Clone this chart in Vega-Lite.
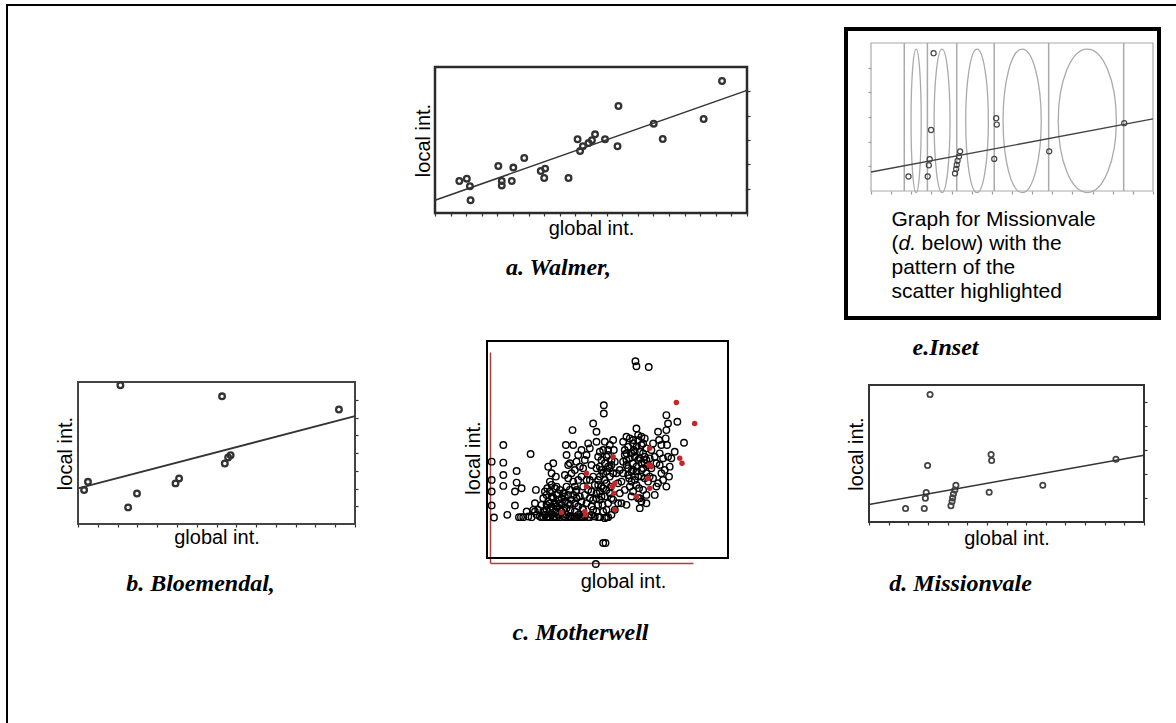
{
  "$schema": "https://vega.github.io/schema/vega-lite/v6.json",
  "width": 1176,
  "height": 723,
  "autosize": "none",
  "padding": 0,
  "background": "white",
  "config": {
    "view": {"stroke": null},
    "axis": {"grid": false, "labels": false, "domain": false, "ticks": false, "titleFont": "Liberation Sans", "titleFontWeight": "normal", "titleFontSize": 20, "titleColor": "#000", "tickColor": "#333", "tickWidth": 1.2, "tickSize": 3}
  },
  "datasets": {
    "walmer": [{"gx":92.0,"ly":90.4},{"gx":58.8,"ly":73.3},{"gx":86.1,"ly":64.4},{"gx":70.1,"ly":61.2},{"gx":73.0,"ly":50.7},{"gx":58.5,"ly":45.7},{"gx":54.5,"ly":50.5},{"gx":51.3,"ly":53.9},{"gx":50.3,"ly":49.8},{"gx":49.2,"ly":47.9},{"gx":47.4,"ly":45.7},{"gx":46.5,"ly":42.5},{"gx":45.7,"ly":50.5},{"gx":28.6,"ly":37.7},{"gx":25.1,"ly":31.1},{"gx":20.3,"ly":32.2},{"gx":33.9,"ly":28.8},{"gx":35.3,"ly":30.4},{"gx":35.0,"ly":24.0},{"gx":42.8,"ly":24.0},{"gx":24.6,"ly":21.9},{"gx":21.4,"ly":21.9},{"gx":21.4,"ly":18.9},{"gx":11.2,"ly":18.3},{"gx":10.2,"ly":23.5},{"gx":7.8,"ly":21.9},{"gx":11.4,"ly":8.7}],
    "walmerFit": [{"gx":0,"ly":8.7},{"gx":100,"ly":84.0}],
    "bloem": [{"gx":15.3,"ly":97.7},{"gx":52.0,"ly":89.9},{"gx":94.2,"ly":80.6},{"gx":55.1,"ly":48.5},{"gx":54.2,"ly":46.8},{"gx":53.0,"ly":42.6},{"gx":36.5,"ly":32.1},{"gx":35.2,"ly":28.6},{"gx":3.6,"ly":29.7},{"gx":2.2,"ly":23.9},{"gx":21.3,"ly":21.5},{"gx":18.1,"ly":11.7}],
    "bloemFit": [{"gx":0,"ly":25.1},{"gx":100,"ly":75.9}],
    "mission": [{"gx":22.2,"ly":93.1},{"gx":21.3,"ly":41.2},{"gx":44.4,"ly":49.2},{"gx":44.6,"ly":44.9},{"gx":89.8,"ly":45.8},{"gx":20.8,"ly":21.5},{"gx":20.5,"ly":17.4},{"gx":13.3,"ly":9.8},{"gx":20.1,"ly":9.8},{"gx":31.6,"ly":26.8},{"gx":31.2,"ly":23.3},{"gx":30.7,"ly":20.4},{"gx":30.4,"ly":17.6},{"gx":30.2,"ly":14.9},{"gx":29.8,"ly":11.9},{"gx":43.7,"ly":21.7},{"gx":63.2,"ly":26.8}],
    "missionFit": [{"gx":0,"ly":12.8},{"gx":100,"ly":48.7}],
    "bands": [{"gx":11.8},{"gx":20.0},{"gx":30.4},{"gx":43.7},{"gx":63.0},{"gx":89.6}],
    "ellipses": [{"band":"e1","gx":16.0},{"band":"e2","gx":25.2},{"band":"e3","gx":37.6},{"band":"e4","gx":53.6},{"band":"e5","gx":76.7}],
    "mwBlack": [{"gx":55.7,"ly":90.7},{"gx":56.0,"ly":89.2},{"gx":59.7,"ly":89.0},
      {"gx":12.5,"ly":60.5},{"gx":12.5,"ly":55.0},{"gx":12.5,"ly":51.5},{"gx":12.5,"ly":47.3},{"gx":13.2,"ly":43.7},
      {"gx":16.0,"ly":65.5},{"gx":16.0,"ly":60.2},{"gx":16.0,"ly":56.5},{"gx":16.0,"ly":53.2},{"gx":17.2,"ly":44.5},
      {"gx":20.0,"ly":57.7},{"gx":20.0,"ly":54.2},{"gx":19.5,"ly":51.5},{"gx":19.5,"ly":47.3},{"gx":21.5,"ly":52.5},{"gx":20.7,"ly":43.8},{"gx":21.3,"ly":43.8},{"gx":22.0,"ly":43.8},
      {"gx":24.2,"ly":62.8},{"gx":24.5,"ly":43.8},{"gx":25.5,"ly":45.5},{"gx":25.5,"ly":48.0},{"gx":25.8,"ly":52.0},{"gx":26.5,"ly":46.0},{"gx":27.5,"ly":43.8},{"gx":28.5,"ly":45.5},{"gx":29.0,"ly":47.5},{"gx":29.0,"ly":50.5},{"gx":29.2,"ly":52.5},{"gx":29.5,"ly":59.0},{"gx":30.5,"ly":57.0},{"gx":31.0,"ly":60.0},{"gx":30.0,"ly":54.5},{"gx":31.8,"ly":56.0},{"gx":32.0,"ly":53.0},{"gx":32.5,"ly":51.0},{"gx":33.0,"ly":48.0},{"gx":33.5,"ly":45.5},{"gx":34.0,"ly":44.0},{"gx":34.5,"ly":48.5},{"gx":35.0,"ly":53.0},{"gx":34.5,"ly":56.5},{"gx":34.8,"ly":65.5},{"gx":35.0,"ly":62.5},{"gx":35.5,"ly":59.5},{"gx":36.5,"ly":57.0},{"gx":37.0,"ly":54.5},{"gx":36.8,"ly":70.0},{"gx":37.0,"ly":65.5},{"gx":37.8,"ly":51.5},{"gx":38.0,"ly":49.5},{"gx":38.5,"ly":47.0},{"gx":38.5,"ly":62.5},{"gx":39.0,"ly":59.0},{"gx":39.5,"ly":56.0},{"gx":40.0,"ly":53.0},{"gx":40.5,"ly":50.5},{"gx":41.0,"ly":48.0},{"gx":40.5,"ly":44.0},{"gx":41.0,"ly":62.5},{"gx":41.5,"ly":66.0},{"gx":42.0,"ly":64.5},{"gx":43.0,"ly":72.0},{"gx":44.0,"ly":69.5},{"gx":44.0,"ly":66.5},{"gx":44.5,"ly":62.0},{"gx":45.0,"ly":59.0},{"gx":45.0,"ly":56.0},{"gx":45.5,"ly":53.0},{"gx":45.5,"ly":50.0},{"gx":45.8,"ly":47.5},{"gx":46.0,"ly":45.5},{"gx":46.2,"ly":77.5},{"gx":46.2,"ly":75.0},{"gx":46.5,"ly":66.5},{"gx":46.5,"ly":43.5},{"gx":47.0,"ly":62.0},{"gx":47.5,"ly":59.0},{"gx":48.0,"ly":56.0},{"gx":48.3,"ly":53.0},{"gx":48.5,"ly":49.5},{"gx":49.0,"ly":67.0},{"gx":49.2,"ly":64.0},{"gx":49.5,"ly":60.5},{"gx":50.0,"ly":57.0},{"gx":50.5,"ly":54.0},{"gx":51.0,"ly":51.0},{"gx":51.5,"ly":48.0},{"gx":52.0,"ly":66.5},{"gx":52.5,"ly":64.0},{"gx":53.0,"ly":61.0},{"gx":53.5,"ly":58.5},{"gx":53.8,"ly":55.5},{"gx":54.0,"ly":53.0},{"gx":54.5,"ly":50.0},{"gx":55.0,"ly":67.0},{"gx":55.2,"ly":64.0},{"gx":55.5,"ly":62.0},{"gx":56.0,"ly":70.5},{"gx":56.0,"ly":59.0},{"gx":56.5,"ly":56.0},{"gx":56.8,"ly":52.5},{"gx":57.0,"ly":49.5},{"gx":57.5,"ly":68.0},{"gx":57.5,"ly":65.5},{"gx":58.0,"ly":63.0},{"gx":58.5,"ly":60.0},{"gx":59.0,"ly":57.0},{"gx":59.5,"ly":54.5},{"gx":60.0,"ly":61.5},{"gx":60.5,"ly":64.0},{"gx":61.5,"ly":62.0},{"gx":62.5,"ly":69.5},{"gx":62.8,"ly":67.0},{"gx":63.0,"ly":59.5},{"gx":63.5,"ly":57.0},{"gx":64.0,"ly":61.5},{"gx":64.8,"ly":67.5},{"gx":65.0,"ly":74.5},{"gx":65.2,"ly":65.5},{"gx":65.5,"ly":72.0},{"gx":65.5,"ly":62.0},{"gx":65.8,"ly":56.0},{"gx":65.0,"ly":53.0},{"gx":66.0,"ly":59.0},{"gx":68.3,"ly":72.5},{"gx":70.3,"ly":66.2},{"gx":62.5,"ly":54.0},{"gx":57.5,"ly":48.5},{"gx":56.5,"ly":49.5},{"gx":53.0,"ly":47.5},{"gx":50.5,"ly":48.0},{"gx":49.5,"ly":46.0},{"gx":48.5,"ly":44.5},{"gx":47.0,"ly":46.0},{"gx":44.0,"ly":45.5},{"gx":43.5,"ly":44.0},{"gx":42.5,"ly":47.0},{"gx":42.0,"ly":49.5},{"gx":41.5,"ly":52.0},{"gx":39.8,"ly":46.5},{"gx":37.0,"ly":44.0},{"gx":36.2,"ly":46.0},{"gx":35.5,"ly":48.0},{"gx":34.0,"ly":46.0},{"gx":32.0,"ly":45.5},{"gx":31.5,"ly":48.0},{"gx":30.5,"ly":50.0},{"gx":30.0,"ly":48.0},{"gx":28.0,"ly":49.5},{"gx":27.0,"ly":44.0},{"gx":26.0,"ly":44.5},{"gx":25.0,"ly":46.0},{"gx":23.5,"ly":44.0},{"gx":23.0,"ly":45.5},
      {"gx":28.5,"ly":44.5},{"gx":29.5,"ly":44.0},{"gx":30.5,"ly":44.5},{"gx":31.5,"ly":44.0},{"gx":32.5,"ly":44.5},{"gx":33.0,"ly":46.5},{"gx":35.0,"ly":44.5},{"gx":36.0,"ly":44.0},{"gx":37.5,"ly":45.5},{"gx":38.5,"ly":44.5},{"gx":39.5,"ly":44.0},{"gx":30.0,"ly":46.0},{"gx":31.0,"ly":46.5},{"gx":29.0,"ly":46.0},{"gx":32.0,"ly":47.0},{"gx":33.5,"ly":49.5},{"gx":35.5,"ly":50.5},{"gx":36.5,"ly":49.0},{"gx":37.5,"ly":48.0},{"gx":36.0,"ly":52.0},{"gx":34.0,"ly":51.0},{"gx":31.5,"ly":52.5},{"gx":30.5,"ly":53.5},{"gx":28.5,"ly":51.5},{"gx":27.5,"ly":47.5},{"gx":37.5,"ly":53.0},{"gx":38.5,"ly":55.0},{"gx":35.5,"ly":55.5},
      {"gx":42.5,"ly":44.5},{"gx":43.0,"ly":46.0},{"gx":44.5,"ly":47.5},{"gx":45.0,"ly":49.0},{"gx":44.0,"ly":51.0},{"gx":43.5,"ly":53.5},{"gx":44.5,"ly":55.0},{"gx":46.0,"ly":57.0},{"gx":46.5,"ly":55.0},{"gx":47.0,"ly":52.0},{"gx":46.5,"ly":50.0},{"gx":47.5,"ly":48.0},{"gx":48.0,"ly":58.5},{"gx":48.5,"ly":61.0},{"gx":47.5,"ly":64.0},{"gx":45.5,"ly":61.0},{"gx":44.0,"ly":58.5},{"gx":43.0,"ly":56.0},{"gx":42.5,"ly":51.5},
      {"gx":52.5,"ly":62.5},{"gx":53.5,"ly":65.0},{"gx":54.5,"ly":63.0},{"gx":55.0,"ly":60.0},{"gx":54.5,"ly":57.5},{"gx":55.5,"ly":55.0},{"gx":56.5,"ly":61.0},{"gx":57.0,"ly":63.5},{"gx":58.0,"ly":66.0},{"gx":57.5,"ly":58.0},{"gx":58.5,"ly":55.5},{"gx":59.5,"ly":59.5},{"gx":54.0,"ly":67.5},{"gx":56.5,"ly":67.0},{"gx":53.0,"ly":59.5},{"gx":52.0,"ly":57.0},{"gx":51.5,"ly":54.5},{"gx":52.5,"ly":52.0},{"gx":55.0,"ly":51.5},{"gx":58.0,"ly":52.0},{"gx":59.0,"ly":50.5},
      {"gx":60.5,"ly":58.5},{"gx":61.0,"ly":55.5},{"gx":62.0,"ly":60.0},{"gx":63.0,"ly":63.0},{"gx":64.5,"ly":58.0},{"gx":66.5,"ly":61.5},{"gx":67.5,"ly":63.5},{"gx":65.0,"ly":70.0},{"gx":63.5,"ly":65.5},{"gx":61.0,"ly":66.0},{"gx":60.0,"ly":56.0},{"gx":62.0,"ly":53.0},{"gx":64.0,"ly":55.0},{"gx":61.5,"ly":50.5},{"gx":59.0,"ly":48.0},{"gx":57.0,"ly":46.5},
      {"gx":28.0,"ly":43.8},{"gx":29.0,"ly":43.8},{"gx":30.0,"ly":43.8},{"gx":31.0,"ly":43.8},{"gx":32.0,"ly":43.8},{"gx":33.0,"ly":43.8},{"gx":34.5,"ly":43.8},{"gx":35.5,"ly":43.8},{"gx":36.5,"ly":43.8},{"gx":37.5,"ly":43.8},{"gx":38.0,"ly":43.8},{"gx":39.0,"ly":43.8},{"gx":40.0,"ly":43.8},{"gx":41.5,"ly":43.8},{"gx":42.0,"ly":43.8},{"gx":44.5,"ly":43.8},{"gx":45.0,"ly":43.8},{"gx":47.0,"ly":43.8},{"gx":47.5,"ly":43.8},{"gx":29.5,"ly":48.5},{"gx":30.5,"ly":47.0},{"gx":31.0,"ly":49.5},{"gx":32.5,"ly":49.0},{"gx":33.5,"ly":47.5},{"gx":34.5,"ly":50.0},{"gx":35.0,"ly":46.5},{"gx":36.0,"ly":47.5},{"gx":37.0,"ly":50.5},{"gx":38.0,"ly":52.0},{"gx":39.0,"ly":50.0},{"gx":39.5,"ly":48.5},{"gx":40.0,"ly":46.0},{"gx":30.0,"ly":51.5},{"gx":32.0,"ly":50.5},{"gx":33.0,"ly":52.0},{"gx":28.0,"ly":45.5},
      {"gx":43.0,"ly":49.0},{"gx":44.0,"ly":49.5},{"gx":45.0,"ly":51.5},{"gx":46.0,"ly":52.5},{"gx":47.0,"ly":54.0},{"gx":48.0,"ly":51.0},{"gx":49.0,"ly":49.0},{"gx":44.5,"ly":53.5},{"gx":45.5,"ly":58.0},{"gx":46.5,"ly":60.0},{"gx":47.0,"ly":57.5},{"gx":48.5,"ly":59.5},{"gx":49.0,"ly":57.0},{"gx":47.5,"ly":62.5},{"gx":46.0,"ly":64.0},{"gx":48.0,"ly":65.5},{"gx":45.0,"ly":63.5},
      {"gx":53.0,"ly":63.0},{"gx":54.0,"ly":61.5},{"gx":55.5,"ly":63.5},{"gx":56.0,"ly":65.0},{"gx":57.0,"ly":61.5},{"gx":58.5,"ly":62.0},{"gx":59.0,"ly":64.5},{"gx":55.0,"ly":58.0},{"gx":56.0,"ly":57.5},{"gx":57.5,"ly":56.0},{"gx":53.5,"ly":56.5},{"gx":54.5,"ly":54.5},{"gx":56.0,"ly":53.5},{"gx":58.0,"ly":58.5},{"gx":59.0,"ly":61.0},{"gx":57.5,"ly":60.0},{"gx":55.0,"ly":66.0},{"gx":53.0,"ly":68.0},{"gx":56.5,"ly":68.5},{"gx":58.5,"ly":67.5},{"gx":52.0,"ly":60.5},{"gx":51.0,"ly":58.0},
      {"gx":36.0,"ly":60.0},{"gx":37.5,"ly":58.0},{"gx":38.0,"ly":60.5},{"gx":40.0,"ly":58.5},{"gx":40.5,"ly":61.0},{"gx":39.5,"ly":64.0},{"gx":42.5,"ly":59.5},{"gx":42.0,"ly":55.0},{"gx":41.0,"ly":55.0},
      {"gx":46.0,"ly":36.0},{"gx":46.7,"ly":36.0},{"gx":43.8,"ly":29.7}],
    "mwRed": [{"gx":68.0,"ly":78.3},{"gx":73.5,"ly":72.0},{"gx":60.0,"ly":64.5},{"gx":59.8,"ly":59.5},{"gx":60.5,"ly":59.0},{"gx":69.0,"ly":61.5},{"gx":69.7,"ly":60.0},{"gx":48.8,"ly":53.0},{"gx":49.2,"ly":51.0},{"gx":49.5,"ly":54.0},{"gx":49.0,"ly":62.0},{"gx":41.0,"ly":57.0},{"gx":40.5,"ly":45.5},{"gx":40.8,"ly":44.5},{"gx":33.5,"ly":45.2},{"gx":49.5,"ly":46.0},{"gx":60.0,"ly":52.5},{"gx":56.0,"ly":50.0},{"gx":41.0,"ly":53.0},{"gx":59.5,"ly":55.5}]
  },
  "resolve": {"scale": {"x": "independent", "y": "independent", "shape": "independent", "size": "independent", "color": "independent"}, "axis": {"x": "independent", "y": "independent"}},
  "layer": [
    {
      "data": {"values": [{}]},
      "mark": {"type": "rect", "fill": "transparent", "stroke": "#000", "strokeWidth": 2},
      "encoding": {
        "x": {"datum": 0, "type": "quantitative", "scale": {"domain": [0, 1], "range": [7, 1200], "nice": false, "zero": false}, "axis": null},
        "x2": {"datum": 1},
        "y": {"datum": 0, "type": "quantitative", "scale": {"domain": [0, 1], "range": [740, 5], "nice": false, "zero": false}, "axis": null},
        "y2": {"datum": 1}
      }
    },
    {
      "data": {"values": [{}]},
      "mark": {"type": "rect", "fill": "transparent", "stroke": "#2b2b2b", "strokeWidth": 2.5},
      "encoding": {
        "x": {"datum": 0, "type": "quantitative", "scale": {"domain": [0, 100], "range": [435, 747], "nice": false, "zero": false},
              "axis": {"orient": "bottom", "offset": -510, "title": "a. Walmer,", "titleFont": "Liberation Serif", "titleFontStyle": "italic", "titleFontWeight": "bold", "titleFontSize": 24, "titlePadding": 42, "titleX": 558}},
        "x2": {"datum": 100},
        "y": {"datum": 0, "type": "quantitative", "scale": {"domain": [0, 100], "range": [213, 67], "nice": false, "zero": false},
              "axis": {"orient": "right", "offset": -429, "ticks": true, "values": [16.67, 33.33, 50, 66.67, 83.33], "title": null}},
        "y2": {"datum": 100}
      }
    },
    {
      "data": {"name": "walmer"},
      "mark": {"type": "point", "filled": false, "stroke": "#333", "strokeWidth": 2.3, "size": 32, "opacity": 1},
      "encoding": {
        "x": {"field": "gx", "type": "quantitative", "scale": {"domain": [0, 100], "range": [435, 747], "nice": false, "zero": false},
              "axis": {"orient": "bottom", "offset": -510, "ticks": true, "values": [0,5,10,15,20,25,30,35,40,45,50,55,60,65,70,75,80,85,90,95,100], "title": "global int.", "titlePadding": 2}},
        "y": {"field": "ly", "type": "quantitative", "scale": {"domain": [0, 100], "range": [213, 67], "nice": false, "zero": false},
              "axis": {"orient": "left", "offset": -435, "title": "local int.", "titlePadding": 2}}
      }
    },
    {
      "data": {"name": "walmerFit"},
      "mark": {"type": "line", "color": "#333", "strokeWidth": 1.5},
      "encoding": {
        "x": {"field": "gx", "type": "quantitative", "scale": {"domain": [0, 100], "range": [435, 747], "nice": false, "zero": false}, "axis": null},
        "y": {"field": "ly", "type": "quantitative", "scale": {"domain": [0, 100], "range": [213, 67], "nice": false, "zero": false}, "axis": null}
      }
    },
    {
      "data": {"values": [{}]},
      "mark": {"type": "rect", "fill": "transparent", "stroke": "#444", "strokeWidth": 2},
      "encoding": {
        "x": {"datum": 0, "type": "quantitative", "scale": {"domain": [0, 100], "range": [78, 355], "nice": false, "zero": false},
              "axis": {"orient": "bottom", "offset": -199, "title": "b. Bloemendal,", "titleFont": "Liberation Serif", "titleFontStyle": "italic", "titleFontWeight": "bold", "titleFontSize": 24, "titlePadding": 47, "titleX": 200}},
        "x2": {"datum": 100},
        "y": {"datum": 0, "type": "quantitative", "scale": {"domain": [0, 100], "range": [524, 382], "nice": false, "zero": false},
              "axis": {"orient": "right", "offset": -821, "ticks": true, "values": [12.5, 25, 37.5, 50, 62.5, 75, 87.5], "title": null}},
        "y2": {"datum": 100}
      }
    },
    {
      "data": {"name": "bloem"},
      "mark": {"type": "point", "filled": false, "stroke": "#333", "strokeWidth": 2.3, "size": 32, "opacity": 1},
      "encoding": {
        "x": {"field": "gx", "type": "quantitative", "scale": {"domain": [0, 100], "range": [78, 355], "nice": false, "zero": false},
              "axis": {"orient": "bottom", "offset": -199, "ticks": true, "values": [0,7.14,14.29,21.43,28.57,35.71,42.86,50,57.14,64.29,71.43,78.57,85.71,92.86,100], "title": "global int.", "titlePadding": 0}},
        "y": {"field": "ly", "type": "quantitative", "scale": {"domain": [0, 100], "range": [524, 382], "nice": false, "zero": false},
              "axis": {"orient": "left", "offset": -78, "title": "local int.", "titlePadding": 3}}
      }
    },
    {
      "data": {"name": "bloemFit"},
      "mark": {"type": "line", "color": "#333", "strokeWidth": 1.8},
      "encoding": {
        "x": {"field": "gx", "type": "quantitative", "scale": {"domain": [0, 100], "range": [78, 355], "nice": false, "zero": false}, "axis": null},
        "y": {"field": "ly", "type": "quantitative", "scale": {"domain": [0, 100], "range": [524, 382], "nice": false, "zero": false}, "axis": null}
      }
    },
    {
      "data": {"values": [{}]},
      "mark": {"type": "rect", "fill": "transparent", "stroke": "#333", "strokeWidth": 2},
      "encoding": {
        "x": {"datum": 0, "type": "quantitative", "scale": {"domain": [0, 100], "range": [869, 1144], "nice": false, "zero": false},
              "axis": {"orient": "bottom", "offset": -201, "title": "d. Missionvale", "titleFont": "Liberation Serif", "titleFontStyle": "italic", "titleFontWeight": "bold", "titleFontSize": 24, "titlePadding": 49, "titleX": 960}},
        "x2": {"datum": 100},
        "y": {"datum": 0, "type": "quantitative", "scale": {"domain": [0, 100], "range": [522, 385], "nice": false, "zero": false},
              "axis": {"orient": "right", "offset": -32, "ticks": true, "values": [17.5, 35, 52.5, 70, 87.5], "title": null}},
        "y2": {"datum": 100}
      }
    },
    {
      "data": {"name": "mission"},
      "mark": {"type": "point", "filled": false, "stroke": "#444", "strokeWidth": 1.8, "size": 28, "opacity": 1},
      "encoding": {
        "x": {"field": "gx", "type": "quantitative", "scale": {"domain": [0, 100], "range": [869, 1144], "nice": false, "zero": false},
              "axis": {"orient": "bottom", "offset": -201, "ticks": true, "values": [0,7.14,14.29,21.43,28.57,35.71,42.86,50,57.14,64.29,71.43,78.57,85.71,92.86,100], "title": "global int.", "titlePadding": 3}},
        "y": {"field": "ly", "type": "quantitative", "scale": {"domain": [0, 100], "range": [522, 385], "nice": false, "zero": false},
              "axis": {"orient": "left", "offset": -869, "title": "local int.", "titlePadding": 3}}
      }
    },
    {
      "data": {"name": "missionFit"},
      "mark": {"type": "line", "color": "#333", "strokeWidth": 1.5},
      "encoding": {
        "x": {"field": "gx", "type": "quantitative", "scale": {"domain": [0, 100], "range": [869, 1144], "nice": false, "zero": false}, "axis": null},
        "y": {"field": "ly", "type": "quantitative", "scale": {"domain": [0, 100], "range": [522, 385], "nice": false, "zero": false}, "axis": null}
      }
    },
    {
      "data": {"values": [{}]},
      "mark": {"type": "rect", "fill": "transparent", "stroke": "#000", "strokeWidth": 4},
      "encoding": {
        "x": {"datum": 0, "type": "quantitative", "scale": {"domain": [0, 1], "range": [846, 1159], "nice": false, "zero": false},
              "axis": {"orient": "bottom", "offset": -405, "title": "e.Inset", "titleFont": "Liberation Serif", "titleFontStyle": "italic", "titleFontWeight": "bold", "titleFontSize": 24, "titlePadding": 17, "titleX": 945}},
        "x2": {"datum": 1},
        "y": {"datum": 0, "type": "quantitative", "scale": {"domain": [0, 1], "range": [318, 29], "nice": false, "zero": false}, "axis": null},
        "y2": {"datum": 1}
      }
    },
    {
      "data": {"values": [{}]},
      "mark": {"type": "rect", "fill": "transparent", "stroke": "#aaa", "strokeWidth": 1.2},
      "encoding": {
        "x": {"datum": 0, "type": "quantitative", "scale": {"domain": [0, 100], "range": [871, 1153], "nice": false, "zero": false},
              "axis": {"orient": "bottom", "offset": -532, "ticks": true, "tickColor": "#999", "values": [0,7.14,14.29,21.43,28.57,35.71,42.86,50,57.14,64.29,71.43,78.57,85.71,92.86,100],
                       "title": ["Graph for Missionvale", "(", "pattern of the", "scatter highlighted"], "titleFontSize": 21, "titleLineHeight": 24, "titleAlign": "left", "titleX": 891, "titlePadding": 14}},
        "x2": {"datum": 100},
        "y": {"datum": 0, "type": "quantitative", "scale": {"domain": [0, 100], "range": [191, 43], "nice": false, "zero": false},
              "axis": {"orient": "left", "offset": -871, "ticks": true, "tickColor": "#999", "values": [16.67, 33.33, 50, 66.67, 83.33], "title": null}},
        "y2": {"datum": 100}
      }
    },
    {
      "data": {"name": "bands"},
      "mark": {"type": "rule", "color": "#aaa", "strokeWidth": 1.5},
      "encoding": {
        "x": {"field": "gx", "type": "quantitative", "scale": {"domain": [0, 100], "range": [871, 1153], "nice": false, "zero": false},
              "axis": {"orient": "bottom", "offset": -532, "title": "d.", "titleFontStyle": "italic", "titleFontSize": 21, "titleAlign": "left", "titleX": 898, "titlePadding": 41}},
        "y": {"datum": 0, "type": "quantitative", "scale": {"domain": [0, 100], "range": [191, 43], "nice": false, "zero": false}, "axis": null},
        "y2": {"datum": 100}
      }
    },
    {
      "data": {"name": "ellipses"},
      "mark": {"type": "point", "filled": false, "stroke": "#aaa", "strokeWidth": 1.3, "size": 20600, "opacity": 1},
      "encoding": {
        "x": {"field": "gx", "type": "quantitative", "scale": {"domain": [0, 100], "range": [871, 1153], "nice": false, "zero": false},
              "axis": {"orient": "bottom", "offset": -532, "title": "below) with the", "titleFontSize": 21, "titleAlign": "left", "titleX": 921, "titlePadding": 41}},
        "y": {"datum": 47.4, "type": "quantitative", "scale": {"domain": [0, 100], "range": [191, 43], "nice": false, "zero": false}, "axis": null},
        "shape": {"field": "band", "type": "nominal", "legend": null,
                  "scale": {"domain": ["e1", "e2", "e3", "e4", "e5"],
                            "range": ["M -0.071 0 A 0.071 1 0 1 0 0.071 0 A 0.071 1 0 1 0 -0.071 0 Z",
                                      "M -0.111 0 A 0.111 1 0 1 0 0.111 0 A 0.111 1 0 1 0 -0.111 0 Z",
                                      "M -0.158 0 A 0.158 1 0 1 0 0.158 0 A 0.158 1 0 1 0 -0.158 0 Z",
                                      "M -0.266 0 A 0.266 1 0 1 0 0.266 0 A 0.266 1 0 1 0 -0.266 0 Z",
                                      "M -0.405 0 A 0.405 1 0 1 0 0.405 0 A 0.405 1 0 1 0 -0.405 0 Z"]}}
      }
    },
    {
      "data": {"name": "mission"},
      "mark": {"type": "point", "filled": false, "stroke": "#444", "strokeWidth": 1.2, "size": 26, "opacity": 1},
      "encoding": {
        "x": {"field": "gx", "type": "quantitative", "scale": {"domain": [0, 100], "range": [871, 1153], "nice": false, "zero": false}, "axis": null},
        "y": {"field": "ly", "type": "quantitative", "scale": {"domain": [0, 100], "range": [191, 43], "nice": false, "zero": false}, "axis": null}
      }
    },
    {
      "data": {"name": "missionFit"},
      "mark": {"type": "line", "color": "#444", "strokeWidth": 1.4},
      "encoding": {
        "x": {"field": "gx", "type": "quantitative", "scale": {"domain": [0, 100], "range": [871, 1153], "nice": false, "zero": false}, "axis": null},
        "y": {"field": "ly", "type": "quantitative", "scale": {"domain": [0, 100], "range": [191, 43], "nice": false, "zero": false}, "axis": null}
      }
    },
    {
      "data": {"values": [{}]},
      "mark": {"type": "rect", "fill": "transparent", "stroke": "#000", "strokeWidth": 2},
      "encoding": {
        "x": {"datum": 0, "type": "quantitative", "scale": {"domain": [0, 1], "range": [487, 728], "nice": false, "zero": false},
              "axis": {"orient": "bottom", "offset": -165, "title": "c. Motherwell", "titleFont": "Liberation Serif", "titleFontStyle": "italic", "titleFontWeight": "bold", "titleFontSize": 24, "titlePadding": 62, "titleX": 580}},
        "x2": {"datum": 1},
        "y": {"datum": 0, "type": "quantitative", "scale": {"domain": [0, 1], "range": [558, 341], "nice": false, "zero": false}, "axis": null},
        "y2": {"datum": 1}
      }
    },
    {
      "data": {"name": "mwBlack"},
      "mark": {"type": "point", "filled": false, "stroke": "#000", "strokeWidth": 1.4, "size": 42, "opacity": 1},
      "encoding": {
        "x": {"field": "gx", "type": "quantitative", "scale": {"domain": [12, 73], "range": [490, 693], "nice": false, "zero": false},
              "axis": {"orient": "bottom", "offset": -160, "domain": true, "domainColor": "#a84040", "domainWidth": 1.5, "title": "global int.", "titlePadding": 8, "titleX": 623}},
        "y": {"field": "ly", "type": "quantitative", "scale": {"domain": [30, 93.5], "range": [563, 352], "nice": false, "zero": false},
              "axis": {"orient": "left", "offset": -490, "domain": true, "domainColor": "#a84040", "domainWidth": 1.5, "title": "local int.", "titlePadding": 7}}
      }
    },
    {
      "data": {"name": "mwRed"},
      "mark": {"type": "point", "filled": true, "color": "#c0282a", "size": 30, "opacity": 1},
      "encoding": {
        "x": {"field": "gx", "type": "quantitative", "scale": {"domain": [12, 73], "range": [490, 693], "nice": false, "zero": false}, "axis": null},
        "y": {"field": "ly", "type": "quantitative", "scale": {"domain": [30, 93.5], "range": [563, 352], "nice": false, "zero": false}, "axis": null}
      }
    }
  ]
}
